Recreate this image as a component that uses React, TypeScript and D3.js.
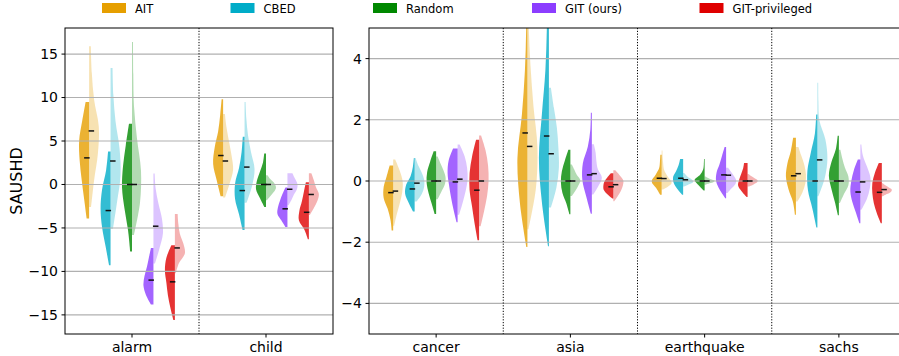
import React from 'react';
import * as d3 from 'd3';

const methods = ['AIT', 'CBED', 'Random', 'GIT (ours)', 'GIT-privileged'];
const colors = ['#E69F00', '#00ACC8', '#008800', '#8C3DFF', '#DF0000'];
const leftCategories = ['alarm', 'child'];
const rightCategories = ['cancer', 'asia', 'earthquake', 'sachs'];
const leftTicks = [-15, -10, -5, 0, 5, 10, 15];
const rightTicks = [-4, -2, 0, 2, 4];

// each half violin: [min, max, mean, relative widths from min to max]
type Half = [number, number, number, number[]];

const alarmSolid: Half[] = [
  [-3.9, 9.5, 3.06, [0.25, 0.5, 0.75, 0.95, 1.0, 0.7, 0.35]],
  [-9.3, 3.8, -3.0, [0.15, 0.5, 0.85, 1.0, 0.85, 0.45, 0.25]],
  [-7.7, 7.0, 0.0, [0.18, 0.4, 0.75, 1.0, 0.9, 0.62, 0.3]],
  [-13.8, -7.3, -11.0, [0.25, 0.75, 1.0, 0.9, 0.65, 0.45, 0.25]],
  [-15.6, -7.0, -11.2, [0.15, 0.45, 0.7, 0.85, 1.0, 0.85, 0.35]],
];
const alarmLight: Half[] = [
  [-2.6, 15.9, 6.16, [0.2, 0.5, 0.88, 0.97, 0.5, 0.27, 0.17]],
  [-5.1, 13.4, 2.7, [0.25, 0.65, 1.0, 0.9, 0.5, 0.28, 0.2]],
  [-5.8, 16.4, 0.0, [0.2, 0.8, 0.9, 0.5, 0.2, 0.13, 0.1]],
  [-9.1, 1.26, -4.8, [0.15, 0.6, 0.95, 0.85, 0.5, 0.22, 0.12]],
  [-10.2, -3.4, -7.3, [0.1, 0.4, 1.0, 0.85, 0.5, 0.35, 0.28]],
];
const childSolid: Half[] = [
  [-1.35, 9.8, 3.33, [0.25, 0.65, 1.0, 0.85, 0.5, 0.3, 0.15]],
  [-5.25, 5.5, -0.7, [0.2, 0.55, 0.95, 0.95, 0.55, 0.3, 0.18]],
  [-2.6, 3.56, 0.0, [0.15, 0.6, 1.0, 0.9, 0.6, 0.3, 0.18]],
  [-4.9, -0.35, -2.8, [0.2, 0.6, 1.0, 0.95, 0.75, 0.5, 0.2]],
  [-6.3, 0.26, -3.2, [0.1, 0.45, 1.0, 0.95, 0.7, 0.5, 0.3]],
];
const childLight: Half[] = [
  [-1.5, 8.1, 2.7, [0.2, 0.65, 1.0, 0.85, 0.6, 0.35, 0.18]],
  [-2.1, 9.5, 2.0, [0.2, 0.75, 1.0, 0.65, 0.35, 0.18, 0.1]],
  [-1.8, 1.07, 0.0, [0.1, 0.45, 0.8, 1.0, 0.85, 0.45, 0.15]],
  [-2.4, 1.3, -0.55, [0.1, 0.4, 0.65, 0.95, 1.0, 0.75, 0.5]],
  [-3.5, 1.3, -1.15, [0.1, 0.5, 0.85, 1.0, 0.7, 0.5, 0.25]],
];
const cancerSolid: Half[] = [
  [-1.62, 0.51, -0.38, [0.15, 0.27, 0.55, 0.95, 0.95, 0.65, 0.35]],
  [-1.0, 0.75, -0.26, [0.15, 0.6, 0.95, 0.85, 0.4, 0.18, 0.08]],
  [-1.08, 0.97, 0.0, [0.15, 0.45, 0.75, 0.95, 0.9, 0.6, 0.25]],
  [-1.35, 1.06, -0.03, [0.1, 0.4, 0.65, 0.85, 1.0, 0.9, 0.45]],
  [-1.94, 1.35, -0.3, [0.15, 0.45, 0.7, 0.95, 0.95, 0.7, 0.3]],
];
const cancerLight: Half[] = [
  [-1.46, 0.7, -0.33, [0.1, 0.35, 0.65, 0.9, 0.95, 0.65, 0.2]],
  [-0.67, 0.75, -0.07, [0.2, 0.7, 0.95, 0.95, 0.7, 0.35, 0.1]],
  [-0.6, 0.8, 0.0, [0.15, 0.5, 0.85, 0.95, 0.75, 0.45, 0.15]],
  [-1.1, 1.19, 0.06, [0.15, 0.5, 0.8, 1.0, 0.95, 0.7, 0.2]],
  [-1.48, 1.49, 0.0, [0.15, 0.5, 0.8, 0.95, 0.9, 0.65, 0.2]],
];
const asiaSolid: Half[] = [
  [-2.16, 6.5, 1.57, [0.1, 0.75, 1.0, 0.55, 0.25, 0.12, 0.1]],
  [-2.13, 6.5, 1.47, [0.08, 0.7, 1.0, 0.7, 0.35, 0.2, 0.15]],
  [-1.09, 1.02, 0.0, [0.1, 0.4, 0.8, 0.95, 0.85, 0.55, 0.2]],
  [-1.07, 2.23, 0.2, [0.1, 0.55, 0.95, 0.9, 0.4, 0.15, 0.1]],
  [-0.57, 0.25, -0.19, [0.1, 0.6, 0.95, 1.0, 0.9, 0.6, 0.25]],
];
const asiaLight: Half[] = [
  [-1.58, 6.5, 1.13, [0.1, 0.85, 1.0, 0.6, 0.3, 0.12, 0.08]],
  [-0.87, 3.05, 0.89, [0.2, 0.75, 1.0, 0.95, 0.8, 0.5, 0.2]],
  [-0.49, 0.54, 0.0, [0.15, 0.5, 0.8, 1.0, 0.65, 0.4, 0.15]],
  [-0.44, 1.2, 0.24, [0.15, 0.65, 1.0, 0.6, 0.45, 0.38, 0.2]],
  [-0.66, 0.35, -0.12, [0.1, 0.45, 0.75, 0.95, 1.0, 0.65, 0.2]],
];
const earthquakeSolid: Half[] = [
  [-0.45, 0.86, 0.09, [0.15, 0.55, 1.0, 0.6, 0.25, 0.17, 0.13]],
  [-0.45, 0.72, 0.09, [0.1, 0.6, 0.95, 1.0, 0.7, 0.45, 0.3]],
  [-0.31, 0.72, 0.0, [0.1, 0.6, 1.0, 0.45, 0.15, 0.08, 0.06]],
  [-0.56, 1.11, 0.2, [0.1, 0.65, 1.0, 0.95, 0.65, 0.4, 0.15]],
  [-0.52, 0.59, 0.0, [0.1, 0.6, 0.95, 0.85, 0.65, 0.45, 0.35]],
];
const earthquakeLight: Half[] = [
  [-0.28, 1.0, 0.08, [0.15, 1.0, 0.6, 0.25, 0.15, 0.1, 0.08]],
  [-0.18, 0.26, 0.04, [0.1, 0.6, 1.0, 0.9, 0.55, 0.3, 0.1]],
  [-0.12, 0.15, 0.0, [0.1, 0.5, 0.9, 1.0, 0.6, 0.3, 0.1]],
  [-0.39, 0.43, 0.19, [0.15, 0.5, 0.9, 1.0, 0.8, 0.5, 0.2]],
  [-0.18, 0.23, 0.0, [0.15, 0.6, 0.95, 1.0, 0.7, 0.35, 0.1]],
];
const sachsSolid: Half[] = [
  [-1.1, 1.41, 0.17, [0.1, 0.3, 0.75, 1.0, 0.85, 0.5, 0.28]],
  [-1.52, 2.17, 0.0, [0.1, 0.5, 0.95, 1.0, 0.65, 0.25, 0.12]],
  [-1.12, 1.48, 0.0, [0.1, 0.4, 0.75, 1.0, 0.75, 0.3, 0.12]],
  [-1.38, 0.7, -0.36, [0.1, 0.45, 0.8, 1.0, 0.9, 0.65, 0.25]],
  [-1.38, 0.59, -0.37, [0.1, 0.5, 0.8, 0.95, 0.95, 0.7, 0.3]],
];
const sachsLight: Half[] = [
  [-0.67, 1.11, 0.24, [0.15, 0.65, 0.95, 1.0, 0.85, 0.55, 0.25]],
  [-0.5, 3.21, 0.69, [0.1, 0.75, 1.0, 0.8, 0.2, 0.1, 0.08]],
  [-0.72, 1.02, 0.0, [0.1, 0.5, 0.95, 0.95, 0.6, 0.35, 0.15]],
  [-0.94, 1.19, -0.03, [0.1, 0.65, 0.95, 1.0, 0.65, 0.25, 0.1]],
  [-0.5, -0.07, -0.28, [0.1, 0.5, 0.9, 1.0, 0.7, 0.35, 0.1]],
];

const leftData = [
  { solid: alarmSolid, light: alarmLight },
  { solid: childSolid, light: childLight },
];
const rightData = [
  { solid: cancerSolid, light: cancerLight },
  { solid: asiaSolid, light: asiaLight },
  { solid: earthquakeSolid, light: earthquakeLight },
  { solid: sachsSolid, light: sachsLight },
];

const W = 899;
const H = 356;
const TOP = 28;
const BOTTOM = 334;
const FONT = 'DejaVu Sans, sans-serif';

function halfPath(h: Half, cx: number, side: number, y: d3.ScaleLinear<number, number>, hw: number) {
  const [lo, hi, , w] = h;
  const n = w.length;
  const pts = w.map((wi, i) => ({ v: lo + ((hi - lo) * i) / (n - 1), w: wi }));
  const area = d3
    .area<{ v: number; w: number }>()
    .y((d) => y(d.v))
    .x0(cx)
    .x1((d) => cx + side * d.w * hw)
    .curve(d3.curveCatmullRom.alpha(0.5));
  return area(pts) || '';
}

function Panel(props: {
  id: string;
  x0: number;
  x1: number;
  domain: [number, number];
  ticks: number[];
  categories: string[];
  data: { solid: Half[]; light: Half[] }[];
}) {
  const { id, x0, x1, domain, ticks, categories, data } = props;
  const x = d3.scaleBand<string>().domain(categories).range([x0, x1]).padding(0);
  const y = d3.scaleLinear().domain(domain).range([BOTTOM, TOP]);
  const bw = x.bandwidth();
  const hw = bw * 0.0745;
  const step = bw * 0.16;
  const fmt = (v: number) => String(v).replace('-', '\u2212');
  return (
    <g>
      <defs>
        <clipPath id={id}>
          <rect x={x0} y={TOP} width={x1 - x0} height={BOTTOM - TOP} />
        </clipPath>
      </defs>
      <g clipPath={`url(#${id})`}>
        {categories.map((c, ci) => {
          const center = (x(c) as number) + bw / 2;
          return methods.map((m, mi) => {
            const cx = center + (mi - 2) * step;
            const s = data[ci].solid[mi];
            const l = data[ci].light[mi];
            return (
              <g key={c + m}>
                <path d={halfPath(s, cx, -1, y, hw)} fill={colors[mi]} fillOpacity={0.8} />
                <path d={halfPath(l, cx, 1, y, hw)} fill={colors[mi]} fillOpacity={0.3} />
              </g>
            );
          });
        })}
        {ticks.map((t) => (
          <line key={'g' + t} x1={x0} x2={x1} y1={y(t)} y2={y(t)} stroke="#b0b0b0" strokeWidth={1.1} />
        ))}
        {categories.map((c, ci) => {
          const center = (x(c) as number) + bw / 2;
          return methods.map((m, mi) => {
            const cx = center + (mi - 2) * step;
            const s = data[ci].solid[mi];
            const l = data[ci].light[mi];
            return (
              <g key={'m' + c + m}>
                <line x1={cx - 5} x2={cx + 0.5} y1={y(s[2])} y2={y(s[2])} stroke="#111" strokeWidth={1.5} />
                <line x1={cx - 0.5} x2={cx + 5} y1={y(l[2])} y2={y(l[2])} stroke="#111" strokeWidth={1.5} />
              </g>
            );
          });
        })}
        {categories.slice(1).map((c) => (
          <line
            key={'sep' + c}
            x1={x(c) as number}
            x2={x(c) as number}
            y1={TOP}
            y2={BOTTOM}
            stroke="#000"
            strokeWidth={1}
            strokeDasharray="1.2,1.6"
          />
        ))}
      </g>
      <rect x={x0} y={TOP} width={x1 - x0} height={BOTTOM - TOP} fill="none" stroke="#000" strokeWidth={1} />
      {ticks.map((t) => (
        <g key={'t' + t}>
          <line x1={x0 - 3.5} x2={x0} y1={y(t)} y2={y(t)} stroke="#000" strokeWidth={1} />
          <text
            x={x0 - 7}
            y={y(t)}
            dy="0.35em"
            textAnchor="end"
            fontFamily={FONT}
            fontSize={14}
            fill="#000"
          >
            {fmt(t)}
          </text>
        </g>
      ))}
      {categories.map((c) => {
        const cx = (x(c) as number) + bw / 2;
        return (
          <g key={'x' + c}>
            <line x1={cx} x2={cx} y1={BOTTOM} y2={BOTTOM + 3.5} stroke="#000" strokeWidth={1} />
            <text x={cx} y={352} textAnchor="middle" fontFamily={FONT} fontSize={14} fill="#000">
              {c}
            </text>
          </g>
        );
      })}
    </g>
  );
}

const legendX = [102, 230.5, 373, 532, 699.5];

export default function App() {
  return (
    <svg
      width={W}
      height={H}
      viewBox={`0 0 ${W} ${H}`}
      style={{ position: 'absolute', left: 0, top: 0, background: '#fff' }}
    >
      <rect x={0} y={0} width={W} height={H} fill="#fff" />
      <Panel
        id="clipL"
        x0={65}
        x1={333}
        domain={[-17.2, 18.0]}
        ticks={leftTicks}
        categories={leftCategories}
        data={leftData}
      />
      <Panel
        id="clipR"
        x0={369}
        x1={906}
        domain={[-5, 5]}
        ticks={rightTicks}
        categories={rightCategories}
        data={rightData}
      />
      <text
        transform="translate(22,181) rotate(-90)"
        textAnchor="middle"
        fontFamily={FONT}
        fontSize={16}
        fill="#000"
      >
        SAUSHD
      </text>
      {methods.map((m, i) => (
        <g key={'leg' + m}>
          <rect x={legendX[i]} y={3} width={24} height={10} fill={colors[i]} />
          <text x={legendX[i] + 33} y={12.5} fontFamily={FONT} fontSize={11.5} fill="#000">
            {m}
          </text>
        </g>
      ))}
    </svg>
  );
}
